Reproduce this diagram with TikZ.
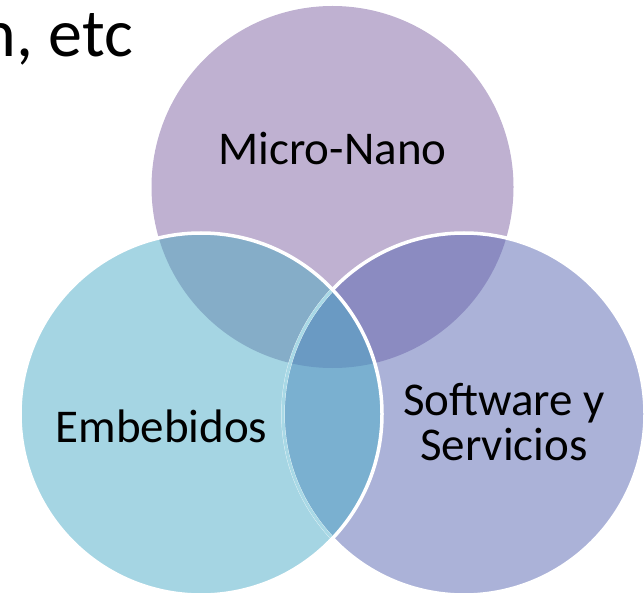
\documentclass[tikz,border=0pt]{standalone}
\usepackage{fontspec}
\setmainfont{Carlito}
\definecolor{topc}{HTML}{BFB1D1}
\definecolor{leftc}{HTML}{A5D5E3}
\definecolor{rightc}{HTML}{ABB2D8}
\definecolor{tlc}{HTML}{85ADC8}
\definecolor{trc}{HTML}{8B8BC1}
\definecolor{lrc}{HTML}{7AB0D0}
\definecolor{allc}{HTML}{6A9AC3}
\definecolor{edgec}{HTML}{A9D9E6}
\tikzset{
  lbl/.style={font=\fontsize{47}{45}\selectfont, text=black, align=center, inner sep=0pt},
  ring/.style={draw=white, line width=3.5pt},
}
\begin{document}
\begin{tikzpicture}[x=1pt,y=-1pt]
\useasboundingbox (0,0) rectangle (644,593);
\def\r{181}
\coordinate (T) at (332.5,187);
\coordinate (L) at (201,414);
\coordinate (R) at (464,414);
% single circles
\fill[topc] (T) circle (\r);
\fill[rightc] (R) circle (\r);
\fill[leftc] (L) circle (\r);
% pairwise overlaps
\begin{scope}\clip (T) circle (\r); \fill[tlc] (L) circle (\r); \end{scope}
\begin{scope}\clip (T) circle (\r); \fill[trc] (R) circle (\r); \end{scope}
\begin{scope}\clip (L) circle (\r); \fill[lrc] (R) circle (\r); \end{scope}
\begin{scope}\clip (T) circle (\r); \clip (L) circle (\r); \fill[allc] (R) circle (\r); \end{scope}
% outlines
\draw[ring] (R) circle (\r);
\begin{scope}\clip (L) circle (\r); \draw[ring, draw=edgec, line width=3pt] (R) circle (\r); \end{scope}
\draw[ring] (L) circle (\r);
% labels
\node[lbl, anchor=base] (mn) at (332.5,165) {Micro-Nano};
\node[lbl, anchor=base] (em) at (161.5,442) {Embebidos};
\node[lbl, anchor=base] (sw1) at (504,415) {Software y};
\node[lbl, anchor=base] (sw2) at (504,460) {Servicios};
\node[font=\fontsize{68}{68}\selectfont, anchor=base east, inner sep=0pt] (etc) at (133,57) {n, etc};
\end{tikzpicture}
\end{document}
